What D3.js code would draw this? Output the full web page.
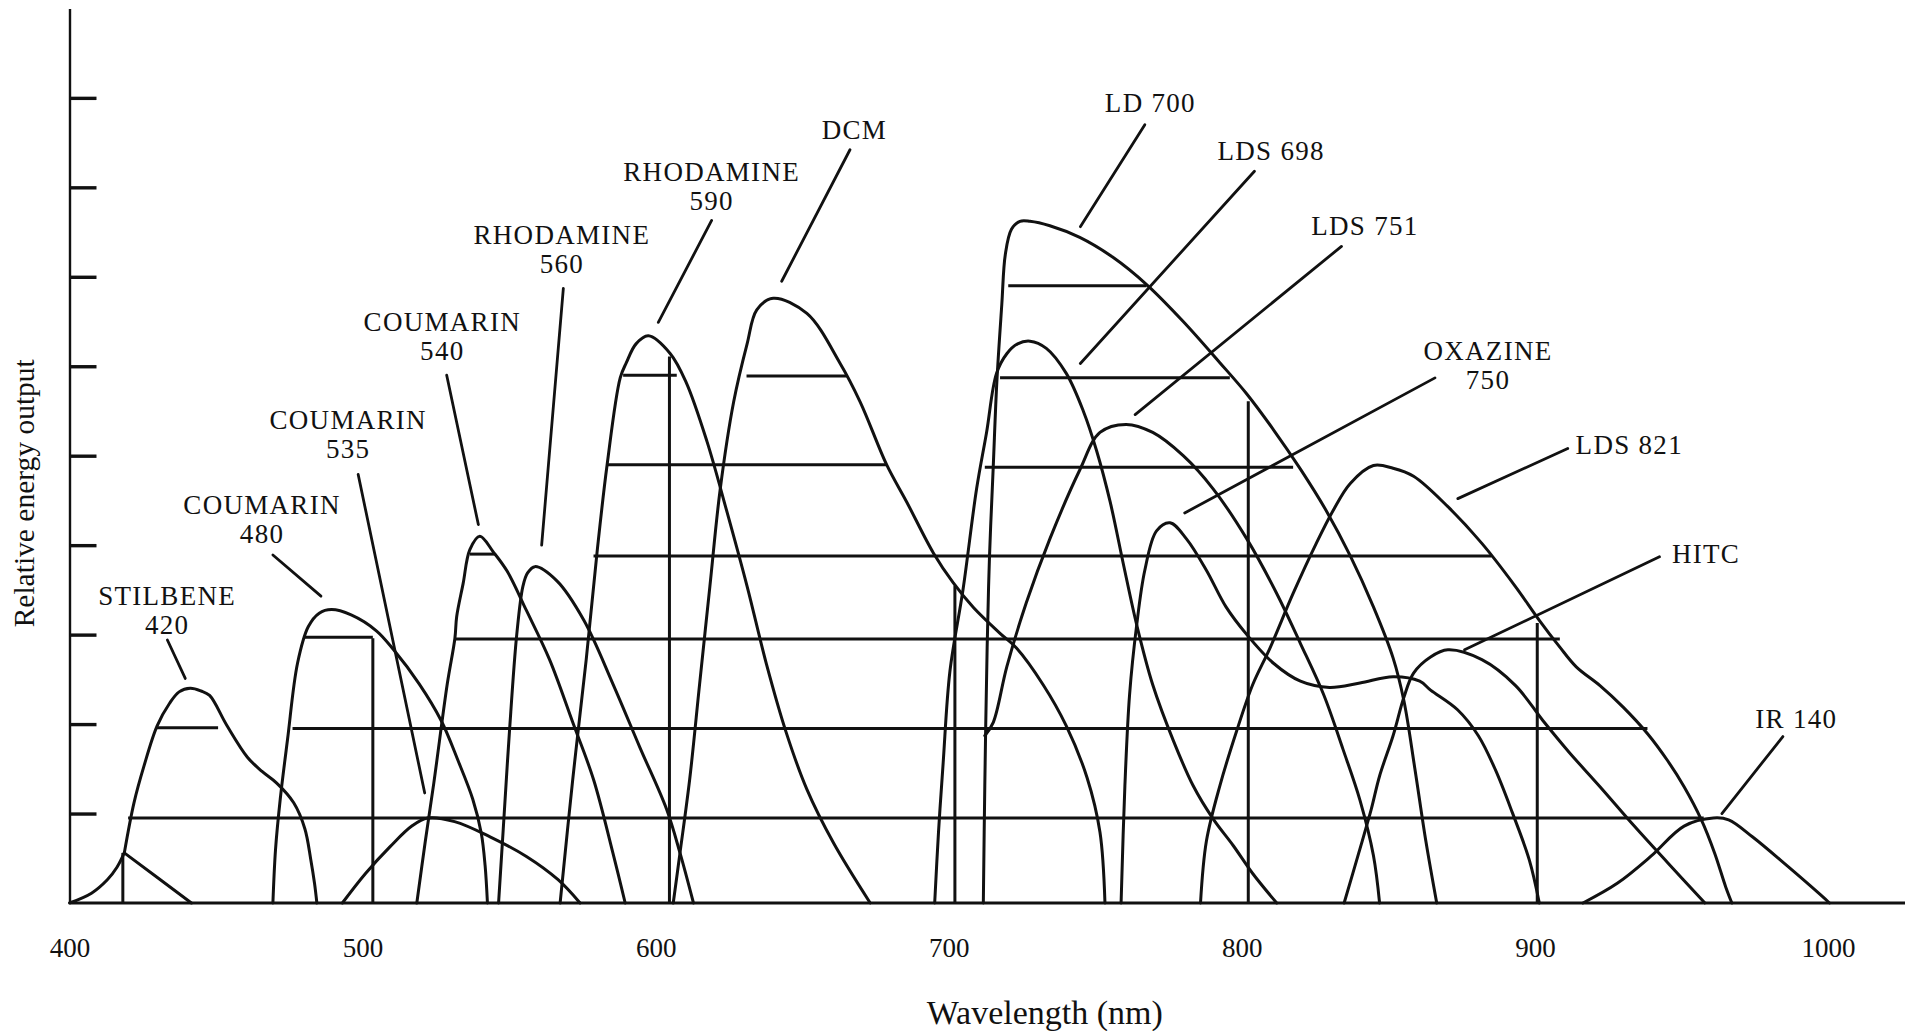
<!DOCTYPE html>
<html>
<head>
<meta charset="utf-8">
<script src="https://cdn.jsdelivr.net/npm/d3@7"></script>
<style>
  html, body { margin: 0; padding: 0; background: #fff; }
  svg { display: block; }
</style>
</head>
<body>
<svg id="chart" width="1911" height="1031"></svg>
<script>
var xTicks = [400, 500, 600, 700, 800, 900, 1000];
var yTicks = [1, 2, 3, 4, 5, 6, 7, 8, 9];

// unlabelled dye at the far left: rounded rise, then a straight fall
var uvEdge = [[400, 0], [407.5, 0.11], [412.9, 0.26], [416.2, 0.40], [418.7, 0.56]];
var uvFall = [[418.7, 0.56], [430.2, 0.28], [441.6, 0]];

var stilbene420 = [[418.7, 0.56], [422.0, 1.12], [425.4, 1.53], [429.9, 1.98], [434.1, 2.23], [437.4, 2.36], [441.2, 2.40], [444.9, 2.37], [447.8, 2.32], [453.6, 1.99], [460.7, 1.63], [465.7, 1.47], [470.7, 1.34], [476.5, 1.12], [480.3, 0.83], [482.3, 0.49], [483.6, 0.22], [484.4, 0]];
var coumarin480 = [[469.4, 0], [470.3, 0.60], [471.9, 1.16], [474.4, 1.83], [477.8, 2.68], [481.5, 3.09], [485.2, 3.24], [489.4, 3.28], [496.1, 3.22], [504.8, 3.04], [510.6, 2.83], [519.3, 2.45], [526.8, 2.04], [532.6, 1.59], [537.6, 1.16], [540.5, 0.78], [541.8, 0.42], [542.6, 0]];
var coumarin535 = [[493.1, 0], [501.0, 0.33], [509.4, 0.63], [516.8, 0.86], [522.2, 0.95], [531.4, 0.91], [543.5, 0.74], [555.9, 0.52], [566.7, 0.26], [574.2, 0]];
var coumarin540 = [[518.5, 0], [521.4, 0.69], [524.3, 1.34], [528.9, 2.45], [531.5, 2.96], [532.1, 3.20], [534.3, 3.57], [536.6, 3.95], [540.0, 4.10], [544.7, 3.92], [549.3, 3.71], [555.9, 3.27], [563.8, 2.72], [571.7, 2.02], [578.8, 1.38], [585.4, 0.56], [589.6, 0]];
var coumarin560 = [[546.4, 0], [548.0, 0.83], [550.1, 1.91], [552.6, 3.00], [554.7, 3.54], [556.3, 3.69], [558.8, 3.76], [566.3, 3.60], [575.5, 3.16], [585.4, 2.45], [594.6, 1.74], [603.7, 1.05], [608.3, 0.56], [612.9, 0]];
var rhodamine590 = [[567.4, 0], [571.7, 1.38], [576.3, 2.72], [580.0, 3.92], [583.4, 4.89], [587.9, 5.87], [590.0, 6.04], [593.3, 6.25], [597.5, 6.34], [605.0, 6.14], [610.4, 5.82], [617.5, 5.16], [624.1, 4.40], [631.2, 3.54], [637.8, 2.67], [644.5, 1.91], [651.6, 1.27], [660.7, 0.67], [673.2, 0]];
var dcm = [[606.0, 0], [608.3, 0.56], [611.6, 1.38], [615.0, 2.45], [618.5, 3.54], [622.0, 4.62], [626.6, 5.60], [631.2, 6.25], [634.5, 6.63], [640.1, 6.76], [651.6, 6.59], [662.8, 6.04], [669.8, 5.60], [678.8, 4.90], [685.7, 4.48], [694.8, 3.91], [701.5, 3.58], [708.5, 3.30], [717.3, 3.02], [723.1, 2.85], [732.2, 2.44], [740.1, 1.98], [747.2, 1.40], [751.6, 0.79], [753.3, 0]];
var ld700 = [[711.8, 0], [712.3, 1.31], [713.1, 2.85], [713.9, 3.87], [715.2, 4.89], [716.4, 5.82], [718.1, 6.69], [719.3, 7.25], [721.4, 7.53], [724.3, 7.62], [727.7, 7.62], [734.5, 7.57], [744.7, 7.44], [755.9, 7.22], [767.6, 6.91], [780.0, 6.50], [792.5, 6.04], [801.7, 5.69], [810.8, 5.29], [820.0, 4.85], [828.9, 4.38], [837.0, 3.88], [844.9, 3.31], [851.6, 2.74], [855.3, 2.26], [859.0, 1.51], [862.8, 0.69], [866.5, 0]];
var lds698 = [[695.2, 0], [696.5, 0.79], [698.1, 1.57], [700.4, 2.59], [704.9, 3.51], [709.5, 4.63], [712.9, 5.26], [716.3, 5.92], [719.8, 6.14], [723.5, 6.25], [727.7, 6.28], [733.3, 6.20], [740.1, 5.92], [745.9, 5.50], [750.5, 5.05], [755.1, 4.48], [759.7, 3.77], [764.2, 3.10], [769.6, 2.44], [776.7, 1.81], [783.4, 1.31], [790.2, 0.94], [797.1, 0.64], [803.7, 0.33], [811.9, 0]];
var lds751 = [[712.3, 1.87], [715.2, 2.02], [719.8, 2.64], [726.4, 3.35], [734.5, 4.07], [744.7, 4.84], [751.6, 5.26], [760.5, 5.35], [769.6, 5.26], [780.0, 5.00], [790.2, 4.63], [801.7, 4.07], [811.9, 3.46], [820.0, 2.90], [827.9, 2.33], [834.5, 1.72], [840.3, 1.15], [844.9, 0.53], [847.0, 0]];
var oxazine750 = [[758.8, 0], [760.1, 1.31], [761.7, 2.33], [764.1, 3.10], [766.9, 3.72], [770.9, 4.16], [775.5, 4.25], [781.1, 4.07], [787.9, 3.72], [794.6, 3.31], [801.7, 3.00], [810.8, 2.68], [820.0, 2.48], [829.9, 2.41], [840.3, 2.46], [851.6, 2.53], [860.7, 2.48], [864.4, 2.38], [873.6, 2.16], [880.7, 1.87], [886.5, 1.49], [892.3, 1.01], [898.1, 0.48], [901.5, 0]];
var lds821 = [[785.9, 0], [787.9, 0.69], [792.5, 1.31], [798.2, 1.92], [803.7, 2.44], [809.6, 2.85], [817.5, 3.46], [825.4, 4.02], [831.2, 4.39], [837.0, 4.69], [844.9, 4.89], [851.6, 4.86], [858.6, 4.77], [870.3, 4.43], [881.9, 4.02], [893.3, 3.54], [901.5, 3.16], [908.5, 2.86], [914.1, 2.64], [922.2, 2.43], [930.1, 2.19], [938.5, 1.89], [945.3, 1.59], [950.9, 1.30], [956.8, 0.93], [961.3, 0.56], [965.1, 0.18], [967.2, 0]];
var hitc = [[834.9, 0], [839.9, 0.56], [844.1, 1.04], [847.0, 1.42], [851.6, 1.87], [855.3, 2.30], [858.6, 2.57], [864.4, 2.75], [870.3, 2.83], [881.9, 2.72], [893.4, 2.43], [902.7, 2.04], [911.8, 1.68], [922.2, 1.30], [933.9, 0.86], [945.3, 0.45], [958.0, 0]];
var ir140 = [[916.4, 0], [928.1, 0.22], [939.5, 0.52], [950.9, 0.86], [960.9, 0.95], [966.1, 0.93], [974.2, 0.74], [985.9, 0.42], [997.5, 0.09], [1000.5, 0]];

var dyeCurves = [uvEdge, stilbene420, coumarin480, coumarin535, coumarin540, coumarin560,
    rhodamine590, dcm, ld700, lds698, lds751, oxazine750, lds821, hitc, ir140];
var straightCurves = [uvFall];

// horizontal hatching: [from nm, to nm, level]
var hatchLevels = [
    [420.0, 957.6, 0.95], [429.8, 450.7, 1.96], [476.1, 938.4, 1.95],
    [480.3, 503.5, 2.97], [531.5, 908.5, 2.95], [536.6, 545.1, 3.90],
    [578.8, 885.2, 3.88], [583.3, 678.8, 4.90], [712.3, 817.5, 4.87],
    [588.9, 607.2, 5.90], [631.0, 665.2, 5.89], [717.5, 795.9, 5.87],
    [720.3, 767.5, 6.90]
];
// vertical drops down to the baseline: [nm, top level]
var dropLines = [[418.2, 0.56], [503.5, 2.96], [604.7, 6.11], [702.1, 3.55], [802.2, 5.61], [900.8, 3.13]];

var labelLines = [
    ["STILBENE", "420"], ["COUMARIN", "480"], ["COUMARIN", "535"], ["COUMARIN", "540"],
    ["RHODAMINE", "560"], ["RHODAMINE", "590"], ["DCM"], ["LD 700"], ["LDS 698"],
    ["LDS 751"], ["OXAZINE", "750"], ["LDS 821"], ["HITC"], ["IR 140"]
];
var labelAt = [[433.3, 3.43], [465.7, 4.45], [495.1, 5.40], [527.2, 6.50], [568.0, 7.47],
    [619.1, 8.17], [667.8, 8.64], [768.8, 8.94], [810.0, 8.41], [842.0, 7.57],
    [884.0, 6.17], [932.2, 5.12], [958.4, 3.90], [989.2, 2.06]];
// leader strokes: [nm1, level1, nm2, level2]
var leaderLines = [
    [433.4, 2.94, 439.5, 2.51], [469.4, 3.89, 485.8, 3.43], [498.5, 4.79, 521.2, 1.23],
    [528.7, 5.90, 539.5, 4.23], [568.5, 6.87, 561.1, 4.00], [619.1, 7.63, 600.9, 6.49],
    [666.3, 8.42, 643.0, 6.95], [766.9, 8.70, 744.9, 7.56], [804.3, 8.18, 744.9, 6.03],
    [834.0, 7.34, 763.6, 5.46], [865.9, 5.87, 780.5, 4.36], [911.2, 5.08, 873.7, 4.52],
    [942.5, 3.87, 876.0, 2.83], [984.6, 1.86, 963.8, 1.00]
];

var width = 1911, height = 1031;
var ink = "#111";
var serif = "'Liberation Serif', 'Times New Roman', 'DejaVu Serif', serif";
var lineWidth = 3;

var svg = d3.select("#chart");

var x = d3.scaleLinear().domain([400, 1000]).range([69.5, 1828]);
var y = d3.scaleLinear().domain([0, 10]).range([903, 8.4]);

var curveLine = d3.line()
    .x(function (d) { return x(d[0]); })
    .y(function (d) { return y(d[1]); })
    .curve(d3.curveCatmullRom.alpha(0.5));

var plainLine = d3.line()
    .x(function (d) { return x(d[0]); })
    .y(function (d) { return y(d[1]); });

// y axis with inward ticks, no numbers
var yAxis = svg.append("g")
    .attr("transform", "translate(" + x(400) + ",0)")
    .call(d3.axisRight(y).tickValues(yTicks).tickSize(27).tickSizeOuter(0).tickFormat(""));
yAxis.select(".domain").attr("stroke", ink).attr("stroke-width", 2.4);
yAxis.selectAll(".tick line").attr("stroke", ink).attr("stroke-width", 3.4);

// x axis: labels only, the baseline is drawn on its own
var xAxis = svg.append("g")
    .attr("transform", "translate(0," + y(0) + ")")
    .call(d3.axisBottom(x).tickValues(xTicks).tickSize(0).tickPadding(35).tickFormat(d3.format("d")));
xAxis.select(".domain").remove();
xAxis.selectAll("text")
    .attr("font-family", serif)
    .attr("font-size", 27)
    .attr("fill", ink);

svg.append("line")
    .attr("x1", x(400))
    .attr("x2", width - 6)
    .attr("y1", y(0))
    .attr("y2", y(0))
    .attr("stroke", ink)
    .attr("stroke-width", lineWidth);

svg.selectAll(".hatch")
    .data(hatchLevels)
    .enter()
    .append("line")
    .attr("class", "hatch")
    .attr("x1", function (d) { return x(d[0]); })
    .attr("x2", function (d) { return x(d[1]); })
    .attr("y1", function (d) { return y(d[2]); })
    .attr("y2", function (d) { return y(d[2]); })
    .attr("stroke", ink)
    .attr("stroke-width", lineWidth);

svg.selectAll(".drop")
    .data(dropLines)
    .enter()
    .append("line")
    .attr("class", "drop")
    .attr("x1", function (d) { return x(d[0]); })
    .attr("x2", function (d) { return x(d[0]); })
    .attr("y1", function (d) { return y(d[1]); })
    .attr("y2", y(0))
    .attr("stroke", ink)
    .attr("stroke-width", lineWidth);

svg.selectAll(".dye")
    .data(dyeCurves)
    .enter()
    .append("path")
    .attr("class", "dye")
    .attr("d", curveLine)
    .attr("fill", "none")
    .attr("stroke", ink)
    .attr("stroke-width", lineWidth)
    .attr("stroke-linejoin", "round")
    .attr("stroke-linecap", "round");

svg.selectAll(".dyeStraight")
    .data(straightCurves)
    .enter()
    .append("path")
    .attr("class", "dyeStraight")
    .attr("d", plainLine)
    .attr("fill", "none")
    .attr("stroke", ink)
    .attr("stroke-width", lineWidth)
    .attr("stroke-linecap", "round");

svg.selectAll(".leader")
    .data(leaderLines)
    .enter()
    .append("line")
    .attr("class", "leader")
    .attr("x1", function (d) { return x(d[0]); })
    .attr("y1", function (d) { return y(d[1]); })
    .attr("x2", function (d) { return x(d[2]); })
    .attr("y2", function (d) { return y(d[3]); })
    .attr("stroke", ink)
    .attr("stroke-width", 2.8)
    .attr("stroke-linecap", "round");

var labels = svg.selectAll(".dyeLabel")
    .data(labelLines)
    .enter()
    .append("text")
    .attr("class", "dyeLabel")
    .attr("text-anchor", "middle")
    .attr("font-family", serif)
    .attr("font-size", 27)
    .attr("letter-spacing", 1.3)
    .attr("fill", ink);

labels.selectAll("tspan")
    .data(function (d, i) {
        return d.map(function (t, k) { return { text: t, k: k, at: labelAt[i] }; });
    })
    .enter()
    .append("tspan")
    .attr("x", function (d) { return x(d.at[0]); })
    .attr("y", function (d) { return y(d.at[1]) + d.k * 29; })
    .attr("dominant-baseline", "central")
    .text(function (d) { return d.text; });

svg.append("text")
    .attr("x", x(700) + 96)
    .attr("y", 1012)
    .attr("text-anchor", "middle")
    .attr("dominant-baseline", "central")
    .attr("font-family", serif)
    .attr("font-size", 34)
    .attr("fill", ink)
    .text("Wavelength (nm)");

svg.append("text")
    .attr("transform", "translate(24," + y(4.58) + ") rotate(-90)")
    .attr("text-anchor", "middle")
    .attr("dominant-baseline", "central")
    .attr("font-family", serif)
    .attr("font-size", 29.5)
    .attr("fill", ink)
    .text("Relative energy output");
</script>
</body>
</html>
